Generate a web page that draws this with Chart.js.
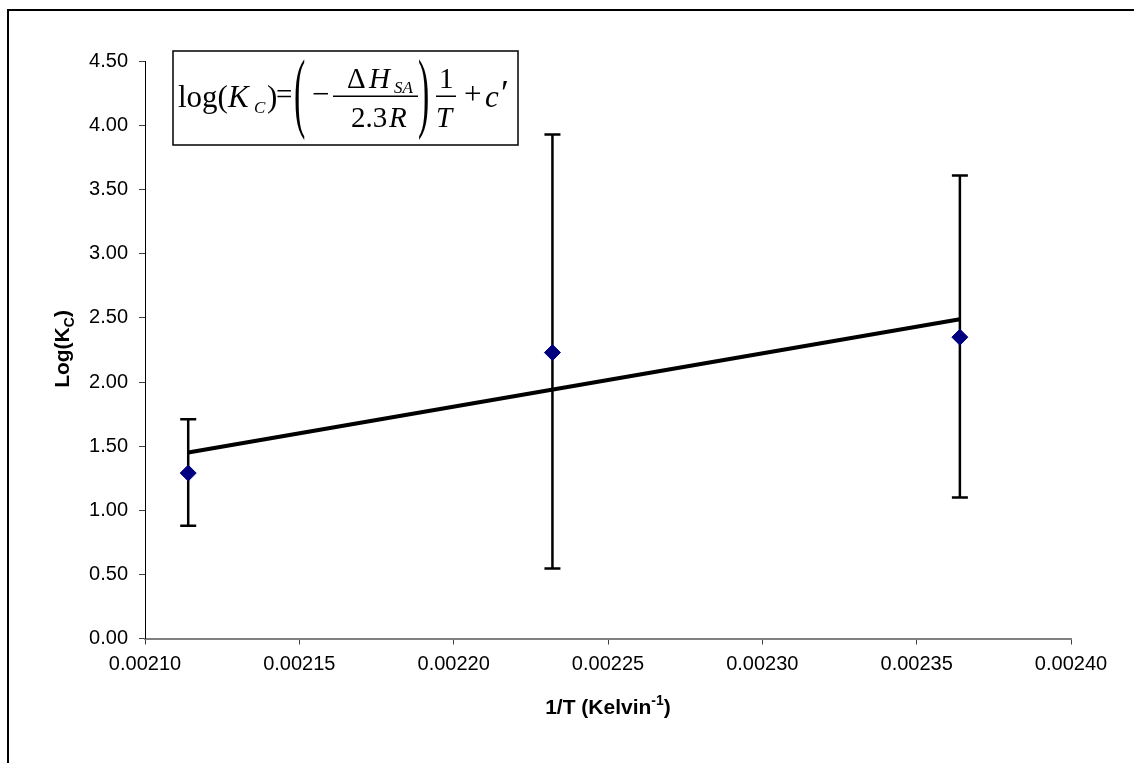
<!DOCTYPE html>
<html>
<head>
<meta charset="utf-8">
<script src="https://cdn.jsdelivr.net/npm/chart.js@4/dist/chart.umd.min.js"></script>
<style>
  html, body { margin: 0; padding: 0; background: #fff; }
  #wrap { position: relative; width: 1134px; height: 763px; }
</style>
</head>
<body>
<div id="wrap"><canvas id="c"></canvas></div>
<script>
// ---- data ----
const invT      = [0.002114, 0.002232, 0.002364];   // 1/T (Kelvin^-1)
const logKc     = [1.29, 2.23, 2.35];               // Log(Kc)
const errUpper  = [1.71, 3.93, 3.61];               // top of error bar
const errLower  = [0.88, 0.545, 1.10];              // bottom of error bar
const trendX    = [0.002114, 0.002364];             // trend line ends
const trendY    = [1.45, 2.49];
const xTitle    = ['1/T (Kelvin', '-1', ')'];
const yTitle    = ['Log(K', 'C', ')'];

const SANS = "'Liberation Sans', Arial, sans-serif";
const SERIF = "'Liberation Serif', 'Times New Roman', serif";

const pts = invT.map((x, i) => ({ x: x, y: logKc[i] }));
const trend = trendX.map((x, i) => ({ x: x, y: trendY[i] }));

const frame = {
  id: 'frame',
  beforeDraw(chart) {
    const ctx = chart.ctx;
    ctx.save();
    ctx.fillStyle = '#fff';
    ctx.fillRect(0, 0, chart.width, chart.height);
    ctx.strokeStyle = '#000';
    ctx.lineWidth = 2;
    ctx.strokeRect(8, 10, 1140, 770);
    ctx.restore();
  }
};

const errorBars = {
  id: 'errorBars',
  beforeDatasetsDraw(chart) {
    const ctx = chart.ctx, xs = chart.scales.x, ys = chart.scales.y;
    ctx.save();
    ctx.strokeStyle = '#000';
    ctx.lineWidth = 2.5;
    invT.forEach((xv, i) => {
      const px = xs.getPixelForValue(xv);
      const pt = ys.getPixelForValue(errUpper[i]);
      const pb = ys.getPixelForValue(errLower[i]);
      ctx.beginPath();
      ctx.moveTo(px, pt); ctx.lineTo(px, pb);
      ctx.moveTo(px - 8, pt); ctx.lineTo(px + 8, pt);
      ctx.moveTo(px - 8, pb); ctx.lineTo(px + 8, pb);
      ctx.stroke();
    });
    ctx.restore();
  }
};

function txt(ctx, s, x, y, font) {
  ctx.font = font;
  ctx.fillText(s, x, y);
  return ctx.measureText(s).width;
}

function bigParen(ctx, ch, x, cy, h) {
  ctx.save();
  const fs = 34;
  ctx.font = fs + 'px ' + SERIF;
  const sy = h / (0.87 * fs);
  ctx.translate(x, cy);
  ctx.scale(1, sy);
  ctx.fillText(ch, 0, 0.255 * fs);
  ctx.restore();
}

const annotations = {
  id: 'annotations',
  afterDraw(chart) {
    const ctx = chart.ctx;
    ctx.save();
    ctx.fillStyle = '#000';
    ctx.textBaseline = 'alphabetic';
    ctx.textAlign = 'left';

    // ---- axis titles ----
    const big = 'bold 21px ' + SANS, small = 'bold 14px ' + SANS;
    ctx.font = big; const w1 = ctx.measureText(xTitle[0]).width, w3 = ctx.measureText(xTitle[2]).width;
    ctx.font = small; const w2 = ctx.measureText(xTitle[1]).width;
    const cx = (chart.chartArea.left + chart.chartArea.right) / 2;
    let x0 = cx - (w1 + w2 + w3) / 2;
    const bx = 714;
    txt(ctx, xTitle[0], x0, bx, big);
    txt(ctx, xTitle[1], x0 + w1, bx - 9, small);
    txt(ctx, xTitle[2], x0 + w1 + w2, bx, big);

    ctx.save();
    ctx.translate(69, 349);
    ctx.rotate(-Math.PI / 2);
    ctx.font = big; const v1 = ctx.measureText(yTitle[0]).width, v3 = ctx.measureText(yTitle[2]).width;
    ctx.font = small; const v2 = ctx.measureText(yTitle[1]).width;
    let y0 = -(v1 + v2 + v3) / 2;
    txt(ctx, yTitle[0], y0, 0, big);
    txt(ctx, yTitle[1], y0 + v1, 5, small);
    txt(ctx, yTitle[2], y0 + v1 + v2, 0, big);
    ctx.restore();

    // ---- equation box ----
    ctx.fillStyle = '#fff';
    ctx.fillRect(173, 51, 345, 94);
    ctx.strokeStyle = '#000';
    ctx.lineWidth = 1.5;
    ctx.strokeRect(173, 51, 345, 94);
    ctx.fillStyle = '#000';
    const R = '31px ' + SERIF, I = 'italic 31px ' + SERIF;
    const Rf = '29px ' + SERIF, If = 'italic 29px ' + SERIF;
    const Is = 'italic 17px ' + SERIF;
    txt(ctx, 'log(', 178, 107, R);
    txt(ctx, 'K', 228, 107, I);
    txt(ctx, 'C', 254, 113, Is);
    txt(ctx, ')', 267, 107, R);
    txt(ctx, '=', 276, 104, '29px ' + SERIF);
    bigParen(ctx, '(', 294, 98.5, 77);
    txt(ctx, '\u2212', 312, 104, R);
    txt(ctx, '\u0394', 347, 88, Rf);
    txt(ctx, 'H', 369, 88, If);
    txt(ctx, 'SA', 394, 93, Is);
    ctx.fillRect(333, 95.5, 85, 1.5);
    txt(ctx, '2.3', 351, 127, Rf);
    txt(ctx, 'R', 389, 127, If);
    bigParen(ctx, ')', 418, 98.5, 77);
    txt(ctx, '1', 439, 88, Rf);
    ctx.fillRect(436, 95.5, 20, 1.5);
    txt(ctx, 'T', 436, 127, If);
    txt(ctx, '+', 464, 104, R);
    txt(ctx, 'c', 485, 107, I);
    txt(ctx, '\u2032', 501, 105, '36px ' + SERIF);
    ctx.restore();
  }
};

new Chart(document.getElementById('c'), {
  data: {
    datasets: [
      {
        type: 'line',
        data: trend,
        borderColor: '#000',
        borderWidth: 4,
        pointRadius: 0,
        fill: false,
        order: 2
      },
      {
        type: 'scatter',
        data: pts,
        pointStyle: 'rectRot',
        pointRadius: 8,
        pointHoverRadius: 8,
        backgroundColor: '#000080',
        borderColor: '#000080',
        borderWidth: 1,
        order: 1
      }
    ]
  },
  options: {
    responsive: true,
    maintainAspectRatio: false,
    animation: false,
    events: [],
    layout: { padding: { left: 0, right: 63, top: 61.5, bottom: 0 } },
    plugins: { legend: { display: false }, tooltip: { enabled: false }, title: { display: false } },
    scales: {
      x: {
        type: 'linear',
        position: 'bottom',
        min: 0.0021,
        max: 0.0024,
        afterFit(s) { s.height = 124.5; },
        border: { display: true, color: '#808080', width: 2 },
        grid: { display: true, drawOnChartArea: false, drawTicks: true, tickLength: 6, color: '#404040', tickWidth: 1 },
        ticks: {
          stepSize: 0.00005,
          padding: 8,
          color: '#000',
          font: { family: SANS, size: 20 },
          maxRotation: 0,
          autoSkip: false,
          callback: v => Number(v).toFixed(5)
        }
      },
      y: {
        type: 'linear',
        position: 'left',
        min: 0,
        max: 4.5,
        afterFit(s) { s.width = 145; },
        border: { display: true, color: '#000', width: 1 },
        grid: { display: true, drawOnChartArea: false, drawTicks: true, tickLength: 6, color: '#404040', tickWidth: 1 },
        ticks: {
          stepSize: 0.5,
          padding: 11,
          color: '#000',
          font: { family: SANS, size: 20 },
          callback: v => Number(v).toFixed(2)
        }
      }
    }
  },
  plugins: [frame, errorBars, annotations]
});
</script>
</body>
</html>
